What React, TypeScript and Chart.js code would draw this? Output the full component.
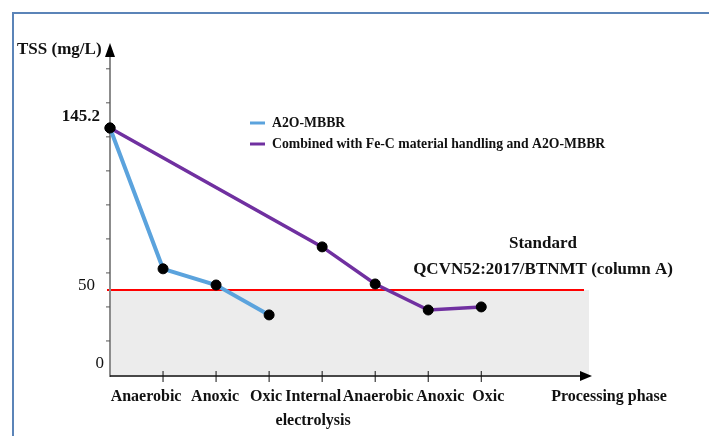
import React, { useEffect, useRef } from "react";
import { Chart, registerables } from "chart.js";

Chart.register(...registerables);

// ---- data ----
const phaseLabels: (string | string[])[] = [
  "Anaerobic",
  "Anoxic",
  "Oxic",
  ["Internal", "electrolysis"],
  "Anaerobic",
  "Anoxic",
  "Oxic",
];
const influentTSS = 145.2;
const standardLimit = 50;
const yTickLabels = [0, 50, 145.2];
const a2oPhaseIndex = [0, 1, 2, 3];
const a2oValues = [145.2, 62.4, 52.9, 35.3];
const combinedPhaseIndex = [0, 4, 5, 6, 7];
const combinedValues = [145.2, 75.3, 53.5, 38.2, 40.0];
const seriesNames = ["A2O-MBBR", "Combined with Fe-C material handling and A2O-MBBR"];
const seriesColors = ["#5ba3dd", "#7030a0"];
const yAxisTitle = "TSS (mg/L)";
const xAxisTitle = "Processing phase";
const standardText = ["Standard", "QCVN52:2017/BTNMT (column A)"];

const SERIF = "'Liberation Serif', 'Times New Roman', serif";
// layout nudges for the hand-placed category labels (px)
const X_LABEL_NUDGE = [-17, -1, -3, -9, 3, 12, 7];

const decorPlugin = {
  id: "decor",
  beforeDatasetsDraw(chart: any) {
    const { ctx, chartArea } = chart;
    const xs = chart.scales.x;
    const ys = chart.scales.y;
    const left = chartArea.left;
    const right = chartArea.right;
    const bottom = chartArea.bottom;
    const yStd = ys.getPixelForValue(standardLimit);
    ctx.save();
    // frame
    ctx.strokeStyle = "#5b84b8";
    ctx.lineWidth = 2;
    ctx.beginPath();
    ctx.moveTo(13, 436);
    ctx.lineTo(13, 13);
    ctx.lineTo(709, 13);
    ctx.stroke();
    // shaded region below standard
    ctx.fillStyle = "#ececec";
    ctx.fillRect(left, yStd, right - left - 1, bottom - yStd);
    // standard line
    ctx.strokeStyle = "#ff0000";
    ctx.lineWidth = 2;
    ctx.beginPath();
    ctx.moveTo(left - 3, yStd);
    ctx.lineTo(right - 6, yStd);
    ctx.stroke();
    // y axis
    ctx.strokeStyle = "#8c8c8c";
    ctx.lineWidth = 2;
    ctx.beginPath();
    ctx.moveTo(left, bottom);
    ctx.lineTo(left, chartArea.top + 12);
    ctx.stroke();
    // y minor ticks
    ctx.lineWidth = 1;
    ctx.strokeStyle = "#555";
    for (let v = 20; v <= 180; v += 20) {
      const py = ys.getPixelForValue(v);
      ctx.beginPath();
      ctx.moveTo(left - 4, py);
      ctx.lineTo(left, py);
      ctx.stroke();
    }
    // y arrow
    ctx.fillStyle = "#000";
    ctx.beginPath();
    ctx.moveTo(left, chartArea.top - 2);
    ctx.lineTo(left - 5, chartArea.top + 12);
    ctx.lineTo(left + 5, chartArea.top + 12);
    ctx.closePath();
    ctx.fill();
    // x axis
    ctx.strokeStyle = "#111";
    ctx.lineWidth = 1.5;
    ctx.beginPath();
    ctx.moveTo(left, bottom - 1);
    ctx.lineTo(right - 8, bottom - 1);
    ctx.stroke();
    ctx.beginPath();
    ctx.moveTo(right + 2, bottom - 1);
    ctx.lineTo(right - 10, bottom - 6);
    ctx.lineTo(right - 10, bottom + 4);
    ctx.closePath();
    ctx.fill();
    // x ticks
    ctx.lineWidth = 1;
    phaseLabels.forEach((_, i) => {
      const px = xs.getPixelForValue(i + 1);
      ctx.beginPath();
      ctx.moveTo(px, bottom - 6);
      ctx.lineTo(px, bottom + 5);
      ctx.stroke();
    });
    ctx.restore();
  },
  afterDatasetsDraw(chart: any) {
    const { ctx, chartArea } = chart;
    const xs = chart.scales.x;
    const ys = chart.scales.y;
    ctx.save();
    ctx.fillStyle = "#111";
    // y tick labels
    ctx.textAlign = "right";
    ctx.textBaseline = "middle";
    yTickLabels.forEach((v) => {
      ctx.font = (v === influentTSS ? "bold " : "") + "17px " + SERIF;
      const lift = v === standardLimit ? 4 : 11;
      const xr = v === 0 ? chartArea.left - 6 : v === standardLimit ? chartArea.left - 15 : chartArea.left - 10;
      ctx.fillText(String(v), xr, ys.getPixelForValue(v) - lift);
    });
    // y title
    ctx.font = "bold 17px " + SERIF;
    ctx.textAlign = "left";
    ctx.fillText(yAxisTitle, 17, 50);
    // x labels
    ctx.font = "bold 16px " + SERIF;
    ctx.textAlign = "center";
    phaseLabels.forEach((lab, i) => {
      const px = xs.getPixelForValue(i + 1) + X_LABEL_NUDGE[i];
      const lines = Array.isArray(lab) ? lab : [lab];
      lines.forEach((ln, j) => {
        ctx.fillText(ln, px, chartArea.bottom + 20 + j * 24);
      });
    });
    ctx.fillText(xAxisTitle, 609, chartArea.bottom + 20);
    // standard text
    ctx.font = "bold 17px " + SERIF;
    ctx.fillText(standardText[0], 543, 244);
    ctx.fillText(standardText[1], 543, 270);
    // legend
    ctx.font = "bold 15px " + SERIF;
    ctx.textAlign = "left";
    seriesNames.forEach((name, i) => {
      const ly = 123 + i * 21;
      ctx.strokeStyle = seriesColors[i];
      ctx.lineWidth = 3;
      ctx.beginPath();
      ctx.moveTo(250, ly);
      ctx.lineTo(265, ly);
      ctx.stroke();
      ctx.fillStyle = "#111";
      ctx.save();
      ctx.translate(272, ly);
      ctx.scale(0.915, 1);
      ctx.fillText(name, 0, 0);
      ctx.restore();
    });
    ctx.restore();
  },
};

export default function App() {
  const ref = useRef<HTMLCanvasElement | null>(null);
  useEffect(() => {
    if (!ref.current) return;
    const chart = new Chart(ref.current, {
      type: "line",
      data: {
        datasets: [
          {
            label: seriesNames[0],
            data: a2oPhaseIndex.map((x, i) => ({ x, y: a2oValues[i] })),
            borderColor: seriesColors[0],
            borderWidth: 4,
            pointRadius: 5,
            pointBackgroundColor: "#000",
            pointBorderColor: "#000",
            pointBorderWidth: 1,
            clip: false as any,
            tension: 0,
          },
          {
            label: seriesNames[1],
            data: combinedPhaseIndex.map((x, i) => ({ x, y: combinedValues[i] })),
            borderColor: seriesColors[1],
            borderWidth: 3.5,
            pointRadius: 5,
            pointBackgroundColor: "#000",
            pointBorderColor: "#000",
            pointBorderWidth: 1,
            clip: false as any,
            tension: 0,
          },
        ],
      },
      options: {
        animation: false,
        responsive: false,
        layout: { padding: { top: 45, right: 119, left: 0, bottom: 0 } },
        plugins: { legend: { display: false }, tooltip: { enabled: false } },
        scales: {
          x: {
            type: "linear",
            min: 0,
            max: 9.05,
            grid: { display: false },
            border: { display: false },
            ticks: { display: false },
            afterFit: (s: any) => {
              s.height = 59;
            },
          },
          y: {
            type: "linear",
            min: -1.2,
            max: 194,
            grid: { display: false },
            border: { display: false },
            ticks: { display: false },
            afterFit: (s: any) => {
              s.width = 110;
            },
          },
        },
      },
      plugins: [decorPlugin],
    });
    return () => chart.destroy();
  }, []);
  return (
    <div style={{ position: "absolute", left: 0, top: 0, width: 709, height: 436, background: "#fff" }}>
      <canvas ref={ref} width={709} height={436} />
    </div>
  );
}
